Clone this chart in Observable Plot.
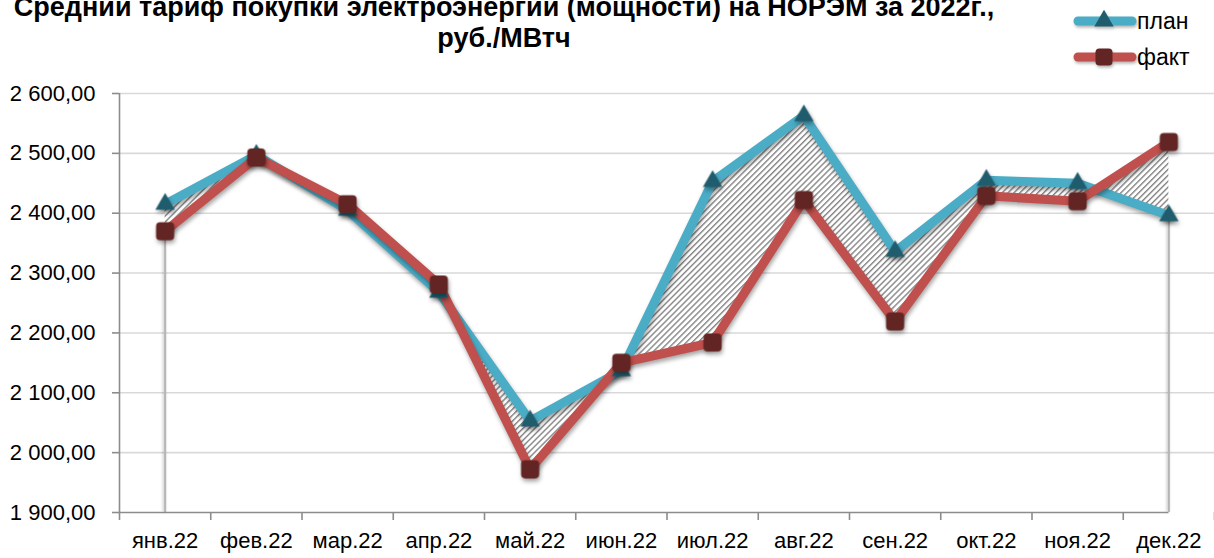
<!DOCTYPE html>
<html>
<head>
<meta charset="utf-8">
<script src="https://cdn.jsdelivr.net/npm/d3@7"></script>
<script src="https://cdn.jsdelivr.net/npm/@observablehq/plot@0.6"></script>
<style>
  html, body { margin: 0; padding: 0; background: #fff; }
  body { width: 1214px; height: 558px; overflow: hidden; position: relative; font-family: "Liberation Sans", Arial, sans-serif; }
  #chart { position: absolute; left: 0; top: 0; }
  #title { position: absolute; left: 0; top: -8px; width: 1008px; text-align: center; font-weight: bold; font-size: 27px; line-height: 31px; color: #000; white-space: nowrap; }
  #legend { position: absolute; left: 1066px; top: 0; }
</style>
</head>
<body>
<div id="chart"></div>
<div id="title">Средний тариф покупки электроэнергии (мощности) на НОРЭМ за 2022г.,<br>руб./МВтч</div>
<div id="legend"></div>
<script>
// ---- data ----
const months = ["янв.22", "фев.22", "мар.22", "апр.22", "май.22", "июн.22", "июл.22", "авг.22", "сен.22", "окт.22", "ноя.22", "дек.22"];
const plan = [2415, 2497, 2405, 2268, 2053, 2137, 2453, 2563, 2336, 2455, 2450, 2396];
const fact = [2370, 2493, 2415, 2281, 1972, 2150, 2184, 2422, 2219, 2429, 2420, 2519];
const yTicks = [1900, 2000, 2100, 2200, 2300, 2400, 2500, 2600];
const seriesNames = ["план", "факт"];

// ---- build ----
const data = months.map((m, i) => ({i, month: m, plan: plan[i], fact: fact[i]}));
const idx = months.map((_, i) => i);
const bounds = d3.range(months.length + 1).map(i => i - 0.5);
const fmt = d3.formatLocale({decimal: ",", thousands: " ", grouping: [3], currency: ["", ""]}).format(",.2f");
const first = data[0], last = data[data.length - 1];

const roundSquare = {
  draw(ctx, size) {
    const s = Math.sqrt(size) / 2, r = s * 0.45;
    ctx.moveTo(-s + r, -s);
    ctx.lineTo(s - r, -s);
    ctx.arcTo(s, -s, s, -s + r, r);
    ctx.lineTo(s, s - r);
    ctx.arcTo(s, s, s - r, s, r);
    ctx.lineTo(-s + r, s);
    ctx.arcTo(-s, s, -s, s - r, r);
    ctx.lineTo(-s, -s + r);
    ctx.arcTo(-s, -s, -s + r, -s, r);
    ctx.closePath();
  }
};

const axisColor = "#8c8c8c";
const chart = Plot.plot({
  width: 1214,
  height: 558,
  marginTop: 93,
  marginBottom: 46,
  marginLeft: 119,
  marginRight: 0,
  style: {fontFamily: '"Liberation Sans", Arial, sans-serif', fontSize: "22px", color: "#000", background: "transparent", overflow: "visible"},
  x: {type: "linear", domain: [-0.5, months.length - 0.5], label: null},
  y: {domain: [yTicks[0], yTicks[yTicks.length - 1]], label: null},
  marks: [
    Plot.ruleY(yTicks.slice(1), {stroke: "#d9d9d9", strokeWidth: 1.6}),
    Plot.areaY(data, {x: "i", y1: "plan", y2: "fact", fill: "url(#hatch)", curve: "linear"}),
    Plot.ruleX([first, last], {x: "i", y1: yTicks[0], y2: d => Math.min(d.plan, d.fact), stroke: "#b5b5b5", strokeWidth: 2}),
    Plot.ruleY([yTicks[0]], {x1: -0.5, x2: months.length - 1, stroke: axisColor, strokeWidth: 1.6}),
    Plot.ruleX([-0.5], {y1: yTicks[0], y2: yTicks[yTicks.length - 1], stroke: axisColor, strokeWidth: 1.6}),
    Plot.axisY({ticks: yTicks, tickSize: 7, tickPadding: 17, tickFormat: fmt, stroke: axisColor, strokeWidth: 1.6, fill: "#000", label: null}),
    Plot.axisX({ticks: bounds, tickSize: 8, tickFormat: () => "", stroke: axisColor, strokeWidth: 1.6, label: null}),
    Plot.axisX({ticks: idx, tickSize: 0, tickPadding: 20, tickFormat: i => months[i], fill: "#000", label: null}),
    Plot.line(data, {x: "i", y: "plan", stroke: "#4bacc6", strokeWidth: 9, strokeLinejoin: "round"}),
    Plot.line(data, {x: "i", y: "fact", stroke: "#c0504d", strokeWidth: 9, strokeLinejoin: "round"}),
    Plot.dot(data, {x: "i", y: "plan", symbol: "triangle", r: 7.2, fill: "#1f5c6d", stroke: "none"}),
    Plot.dot(data, {x: "i", y: "fact", symbol: roundSquare, r: 10.2, fill: "#632523", stroke: "none"})
  ]
});

// hatch pattern
const svg = d3.select(chart);
const defs = svg.insert("defs", ":first-child");
const pat = defs.append("pattern").attr("id", "hatch").attr("patternUnits", "userSpaceOnUse")
  .attr("width", 4.2).attr("height", 4.2).attr("patternTransform", "rotate(45)");
pat.append("rect").attr("width", 4.2).attr("height", 4.2).attr("fill", "#ffffff");
pat.append("rect").attr("width", 1.4).attr("height", 4.2).attr("fill", "#858585");
// soft shadows like the original
svg.selectAll('g[aria-label="line"], g[aria-label="dot"]').style("filter", "drop-shadow(1px 3px 2px rgba(0,0,0,0.35))");
svg.selectAll('g[aria-label="rule"]').filter((d, k, n) => k === 1).style("filter", "drop-shadow(-1px 0px 1.5px rgba(0,0,0,0.25))");
document.getElementById("chart").appendChild(chart);

// legend
const lg = d3.select("#legend").append("svg").attr("width", 148).attr("height", 80)
  .style("font-family", '"Liberation Sans", Arial, sans-serif').style("font-size", "23px");
const legItems = [
  {name: seriesNames[0], color: "#4bacc6", mark: "#1f5c6d", sym: d3.symbolTriangle, size: Math.PI * 7.2 * 7.2, y: 21},
  {name: seriesNames[1], color: "#c0504d", mark: "#632523", sym: roundSquare, size: Math.PI * 9.6 * 9.6, y: 57}
];
for (const it of legItems) {
  const g = lg.append("g").style("filter", "drop-shadow(1px 2px 1.5px rgba(0,0,0,0.3))");
  g.append("line").attr("x1", 12).attr("x2", 66).attr("y1", it.y).attr("y2", it.y)
    .attr("stroke", it.color).attr("stroke-width", 9).attr("stroke-linecap", "round");
  g.append("path").attr("d", d3.symbol(it.sym, it.size)()).attr("transform", `translate(38,${it.y})`).attr("fill", it.mark);
  lg.append("text").attr("x", 71).attr("y", it.y).attr("dy", "0.35em").attr("fill", "#000").text(it.name);
}
</script>
</body>
</html>
